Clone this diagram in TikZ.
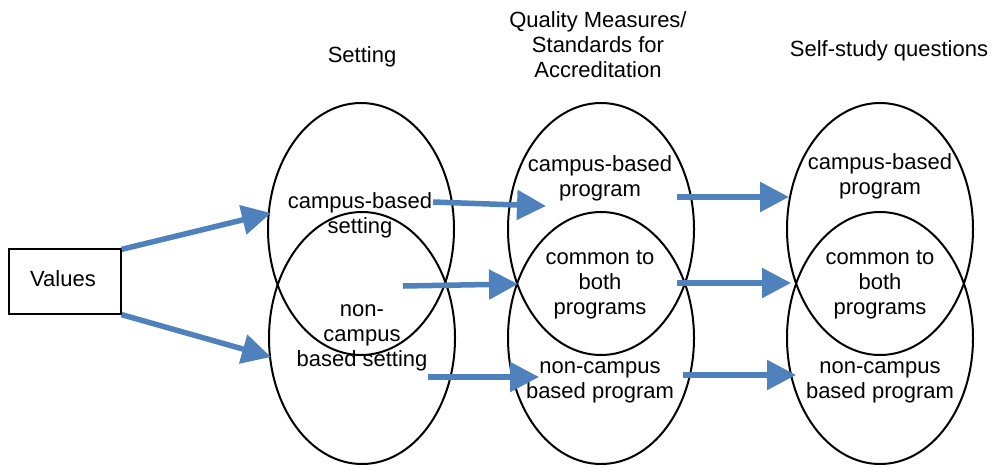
\documentclass[tikz,border=0pt]{standalone}
\usepackage{fontspec}
\setmainfont{Liberation Sans}
\usetikzlibrary{arrows.meta,shapes.geometric}
\definecolor{arrowblue}{RGB}{79,129,189}
\tikzset{
  txt/.style={align=center,inner sep=0pt,font=\fontsize{22}{25}\selectfont},
  oval/.style={draw=black,line width=2pt,ellipse,inner sep=0pt,minimum width=186pt,minimum height=252pt},
  bigarrow/.style={draw=arrowblue,line width=5.5pt,-{Triangle[width=29pt,length=29pt]}},
  valbox/.style={draw=black,line width=1.3pt,minimum width=112pt,minimum height=65pt,inner sep=0pt}
}
\begin{document}
\begin{tikzpicture}[x=1pt,y=-1pt]
\useasboundingbox (0,0) rectangle (1004,466);
% headers
\node[txt] (hSet) at (362,57) {Setting};
\node[txt] (hQual) at (598,45) {Quality Measures/\\Standards for\\Accreditation};
\node[txt] (hSelf) at (889,51) {Self-study questions};
% values box
\node[valbox] (values) at (65,281.5) {};
\node[txt] (valtxt) at (63,279) {Values};
% ellipses
\node[oval] (setTop) at (361,229) {};
\node[oval] (setBot) at (362,338) {};
\node[oval] (qTop) at (601,229) {};
\node[oval] (qBot) at (601,338) {};
\node[oval] (sTop) at (880,229) {};
\node[oval] (sBot) at (880,338) {};
% texts
\node[txt] (setA) at (360,215) {campus-based\\setting};
\node[txt] (setB) at (362,338) {non-\\campus\\based setting};
\node[txt] (qA) at (600,178) {campus-based\\program};
\node[txt] (qC) at (600,285) {common to\\both\\programs};
\node[txt] (qB) at (600,382) {non-campus\\based program};
\node[txt] (sA) at (880,176) {campus-based\\program};
\node[txt] (sC) at (880,285) {common to\\both\\programs};
\node[txt] (sB) at (880,382) {non-campus\\based program};
% arrow endpoints
\coordinate (v1) at (271,213);
\coordinate (v2) at (271,357);
\coordinate (a1s) at (433,202);
\coordinate (a1e) at (546,206);
\coordinate (a2s) at (403,286);
\coordinate (a2e) at (518,284);
\coordinate (a3s) at (428,377);
\coordinate (a3e) at (539,377);
\coordinate (a4s) at (677,197);
\coordinate (a4e) at (789,197);
\coordinate (a5s) at (677,283);
\coordinate (a5e) at (791,283);
\coordinate (a6s) at (683,375);
\coordinate (a6e) at (796,375);
% arrows
\draw[bigarrow] (values.north east) ++(0,1) -- (v1);
\draw[bigarrow] (values.south east) -- (v2);
\draw[bigarrow] (a1s) -- (a1e);
\draw[bigarrow] (a2s) -- (a2e);
\draw[bigarrow] (a3s) -- (a3e);
\draw[bigarrow] (a4s) -- (a4e);
\draw[bigarrow] (a5s) -- (a5e);
\draw[bigarrow] (a6s) -- (a6e);
\end{tikzpicture}
\end{document}
